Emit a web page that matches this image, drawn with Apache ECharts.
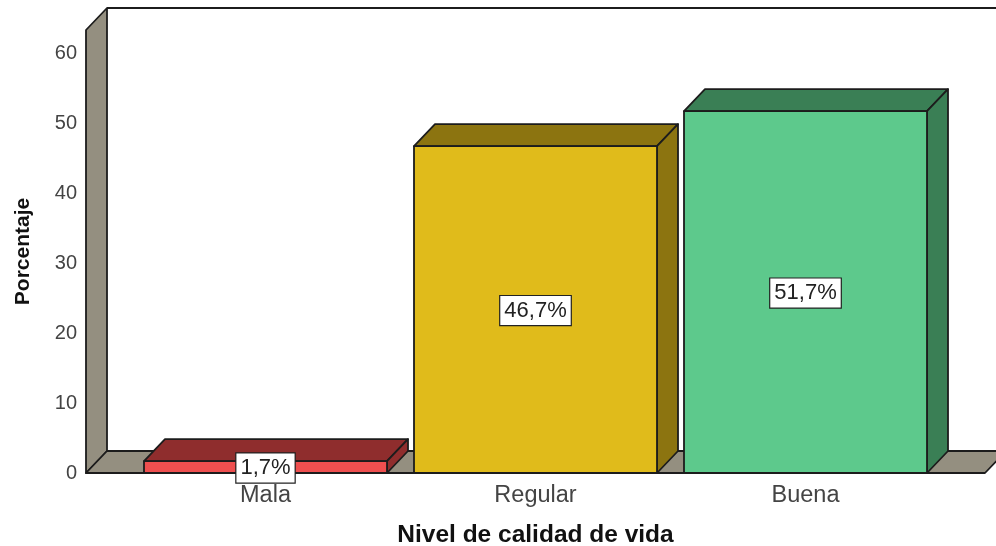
<!DOCTYPE html>
<html lang="es">
<head>
<meta charset="utf-8">
<script src="https://cdn.jsdelivr.net/npm/echarts@6/dist/echarts.min.js"></script>
<style>html,body{margin:0;height:100%;background:#fff}#container{width:996px;height:546px}</style>
</head>
<body>
<div id="container"></div>
<script type="text/javascript">
var categories = ['Mala', 'Regular', 'Buena'];
var values = [1.7, 46.7, 51.7];
var valueLabels = ['1,7%', '46,7%', '51,7%'];
var frameTop = 63.3;

var frontColors = ['#ee4f4f', '#e0bb1b', '#5dc98c'];
var darkColors = ['#8f2d2d', '#8c7410', '#3a7f55'];
var wallColor = '#948f80';
var lineColor = '#1c1c1c';
var depthX = 21, depthY = 22;
var wallGap = 44.5;

var myChart = echarts.init(document.getElementById('container'));

function poly(points, fill, z) {
    return {
        type: 'polygon',
        z2: z || 0,
        shape: {points: points},
        style: {fill: fill, stroke: lineColor, lineWidth: 1.8, lineJoin: 'round'}
    };
}

function renderFrame(params, api) {
    var cs = params.coordSys;
    var bottom = api.coord([0, 0])[1];
    var top = api.coord([0, frameTop])[1];
    var left = cs.x - wallGap;
    var right = cs.x + cs.width + wallGap;
    return {
        type: 'group',
        children: [
            poly([[left, bottom], [left + depthX, bottom - depthY], [left + depthX, top - depthY], [left, top]], wallColor),
            poly([[left, bottom], [right, bottom], [right + depthX, bottom - depthY], [left + depthX, bottom - depthY]], wallColor),
            {
                type: 'line',
                shape: {x1: left + depthX, y1: top - depthY, x2: cs.x + cs.width + 100, y2: top - depthY},
                style: {stroke: lineColor, lineWidth: 1.8}
            }
        ]
    };
}

function renderBar(params, api) {
    var i = api.value(0);
    var p = api.coord([i, api.value(1)]);
    var base = api.coord([i, 0])[1];
    var w = api.size([1, 0])[0] * 0.9;
    var x0 = p[0] - w / 2, x1 = p[0] + w / 2, y = p[1];
    return {
        type: 'group',
        children: [
            poly([[x0, y], [x0 + depthX, y - depthY], [x1 + depthX, y - depthY], [x1, y]], darkColors[i]),
            poly([[x1, y], [x1 + depthX, y - depthY], [x1 + depthX, base - depthY], [x1, base]], darkColors[i]),
            poly([[x0, y], [x1, y], [x1, base], [x0, base]], frontColors[i]),
            {
                type: 'text',
                z2: 10,
                style: {
                    x: p[0],
                    y: (y + base) / 2 + 1,
                    text: valueLabels[i],
                    align: 'center',
                    verticalAlign: 'middle',
                    font: '22px "Liberation Sans"',
                    fill: '#222',
                    backgroundColor: '#fff',
                    borderColor: '#222',
                    borderWidth: 1.2,
                    padding: [4, 4, 3, 4]
                }
            }
        ]
    };
}

var option = {
    animation: false,
    textStyle: {fontFamily: 'Liberation Sans'},
    grid: {left: 130.5, top: 30, width: 810, height: 443, outerBoundsMode: 'none'},
    xAxis: {
        type: 'category',
        data: categories,
        axisLine: {show: false},
        axisTick: {show: false},
        axisLabel: {fontSize: 23.5, color: '#444', margin: 11},
        name: 'Nivel de calidad de vida',
        nameLocation: 'middle',
        nameGap: 50,
        nameTextStyle: {fontSize: 24.5, fontWeight: 'bold', color: '#111'}
    },
    yAxis: {
        type: 'value',
        min: 0,
        max: frameTop,
        interval: 10,
        offset: wallGap,
        splitLine: {show: false},
        axisLine: {show: false},
        axisTick: {show: false},
        axisLabel: {fontSize: 20, color: '#444', margin: 9, showMaxLabel: false},
        name: 'Porcentaje',
        nameLocation: 'middle',
        nameGap: 52,
        nameTextStyle: {fontSize: 21, fontWeight: 'bold', color: '#111'}
    },
    series: [
        {
            type: 'custom',
            coordinateSystem: 'cartesian2d',
            renderItem: renderFrame,
            clip: false,
            silent: true,
            z: 1,
            data: [[0, 0]]
        },
        {
            type: 'custom',
            coordinateSystem: 'cartesian2d',
            renderItem: renderBar,
            clip: false,
            silent: true,
            z: 2,
            encode: {x: 0, y: 1},
            data: values.map(function (v, i) { return [i, v]; })
        }
    ]
};

myChart.setOption(option);
</script>
</body>
</html>
